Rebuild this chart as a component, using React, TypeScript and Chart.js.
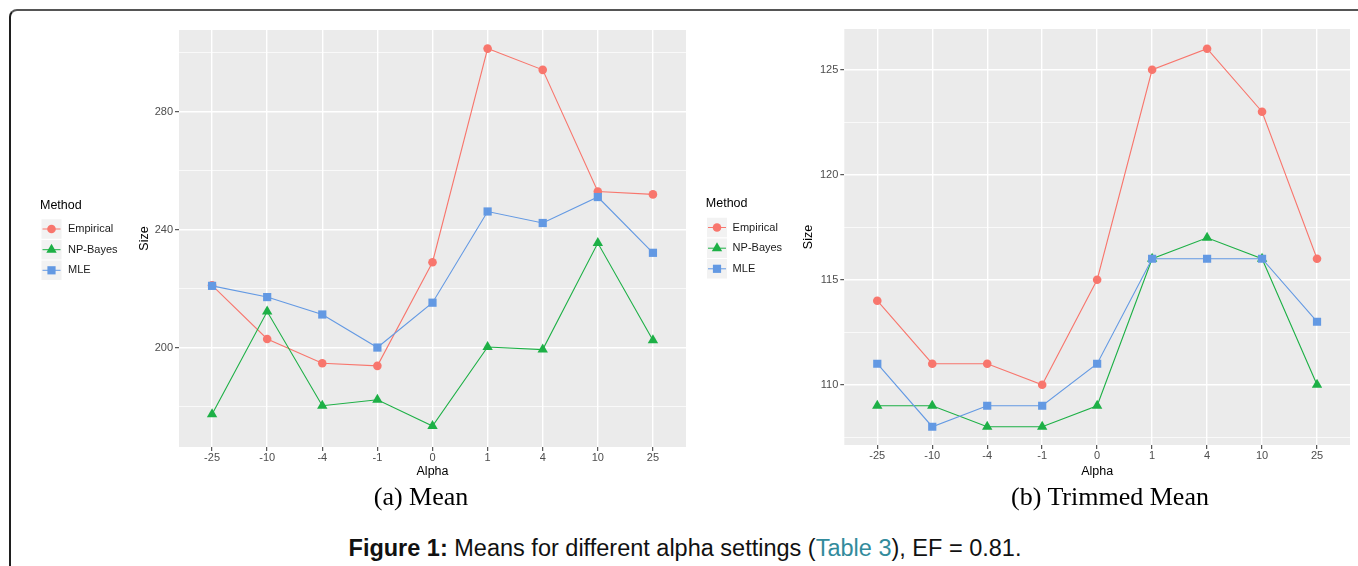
import React, { useEffect, useRef } from 'react';
import { Chart, registerables } from 'chart.js';

Chart.register(...registerables);

// ---------- data ----------
const alphaLabels = ['-25', '-10', '-4', '-1', '0', '1', '4', '10', '25'];
const methodNames = ['Empirical', 'NP-Bayes', 'MLE'];

const meanEmpirical = [221.2, 203, 194.8, 193.9, 229, 301.4, 294.2, 253, 252];
const meanNPBayes = [177.5, 212.3, 180.4, 182.4, 173.5, 200.3, 199.4, 235.5, 202.6];
const meanMLE = [221, 217.2, 211.3, 200.1, 215.3, 246.2, 242.3, 251.1, 232.2];

const trimEmpirical = [114, 111, 111, 110, 115, 125, 126, 123, 116];
const trimNPBayes = [109, 109, 108, 108, 109, 116, 117, 116, 110];
const trimMLE = [111, 108, 109, 109, 111, 116, 116, 116, 113];

const meanMajorTicks = [200, 240, 280];
const meanMinorTicks = [180, 220, 260, 300];
const trimMajorTicks = [110, 115, 120, 125];
const trimMinorTicks = [107.5, 112.5, 117.5, 122.5];

const methodColors = ['#F8766D', '#1DB046', '#6399E3'];
const methodShapes = ['circle', 'triangle', 'rect'];
const methodRadius = [4.3, 6, 5.8];

const SANS = '"Liberation Sans", Arial, Helvetica, sans-serif';

// ---------- plugins ----------
const panelBg = {
  id: 'panelBg',
  beforeDraw(chart: any) {
    const { ctx, chartArea } = chart;
    ctx.save();
    ctx.fillStyle = '#EBEBEB';
    ctx.fillRect(chartArea.left, chartArea.top, chartArea.right - chartArea.left, chartArea.bottom - chartArea.top);
    ctx.restore();
  },
};

function drawMarker(ctx: CanvasRenderingContext2D, style: string, x: number, y: number, r: number, color: string) {
  ctx.fillStyle = color;
  ctx.beginPath();
  if (style === 'circle') {
    ctx.arc(x, y, r, 0, Math.PI * 2);
  } else if (style === 'triangle') {
    let rad = 0;
    ctx.moveTo(x + Math.sin(rad) * r, y - Math.cos(rad) * r);
    rad += (2 * Math.PI) / 3;
    ctx.lineTo(x + Math.sin(rad) * r, y - Math.cos(rad) * r);
    rad += (2 * Math.PI) / 3;
    ctx.lineTo(x + Math.sin(rad) * r, y - Math.cos(rad) * r);
    ctx.closePath();
  } else {
    const s = r * Math.SQRT1_2;
    ctx.rect(x - s, y - s, 2 * s, 2 * s);
  }
  ctx.fill();
}

const ggLegend = {
  id: 'ggLegend',
  afterDraw(chart: any, _args: any, opts: any) {
    const ctx: CanvasRenderingContext2D = chart.ctx;
    ctx.save();
    ctx.textBaseline = 'middle';
    ctx.textAlign = 'left';
    ctx.fillStyle = '#000';
    ctx.font = `12.5px ${SANS}`;
    ctx.fillText(opts.title, opts.titleX, opts.titleY);
    chart.data.datasets.forEach((ds: any, i: number) => {
      const cy = opts.rows[i];
      const x0 = opts.keyX;
      const w = opts.keyW;
      const h = opts.keyH;
      ctx.fillStyle = '#F2F2F2';
      ctx.fillRect(x0, cy - h / 2, w, h);
      ctx.strokeStyle = ds.borderColor;
      ctx.lineWidth = 1;
      ctx.beginPath();
      ctx.moveTo(x0 + 1, cy);
      ctx.lineTo(x0 + w - 1, cy);
      ctx.stroke();
      drawMarker(ctx, ds.pointStyle, x0 + w / 2, cy, ds.pointRadius, ds.pointBackgroundColor);
      ctx.fillStyle = '#1a1a1a';
      ctx.font = `11px ${SANS}`;
      ctx.fillText(ds.label, opts.textX, cy);
    });
    ctx.restore();
  },
};

// ---------- panel ----------
type PanelCfg = {
  left: number;
  width: number;
  height: number;
  padding: { left: number; right: number; top: number; bottom: number };
  yW: number;
  xH: number;
  yTitlePad: number;
  xTitlePad: number;
  yMin: number;
  yMax: number;
  majors: number[];
  minors: number[];
  series: number[][];
  legend: any;
};

function Panel({ cfg }: { cfg: PanelCfg }) {
  const ref = useRef<HTMLCanvasElement | null>(null);
  useEffect(() => {
    if (!ref.current) return;
    const allTicks = [...cfg.majors, ...cfg.minors].sort((a, b) => a - b);
    const isMajor = (v: number) => cfg.majors.includes(v);
    const chart = new Chart(ref.current, {
      type: 'line',
      data: {
        datasets: cfg.series.map((vals, i) => ({
          label: methodNames[i],
          data: vals.map((y, j) => ({ x: j + 1, y })),
          borderColor: methodColors[i],
          backgroundColor: methodColors[i],
          pointBackgroundColor: methodColors[i],
          pointBorderWidth: 0,
          borderWidth: 1.1,
          pointStyle: methodShapes[i],
          pointRadius: methodRadius[i],
          tension: 0,
          order: 2 - i,
        })) as any,
      },
      options: {
        animation: false,
        responsive: false,
        devicePixelRatio: 1,
        events: [],
        layout: { padding: cfg.padding },
        plugins: {
          legend: { display: false },
          tooltip: { enabled: false },
          ggLegend: cfg.legend,
        } as any,
        scales: {
          x: {
            type: 'linear',
            min: 0.4,
            max: 9.6,
            afterBuildTicks: (axis: any) => {
              axis.ticks = alphaLabels.map((_, i) => ({ value: i + 1 }));
            },
            afterFit: (axis: any) => {
              axis.height = cfg.xH;
            },
            border: { display: false },
            grid: {
              color: '#FFFFFF',
              lineWidth: 1.4,
              tickColor: '#333333',
              tickLength: 4,
              tickWidth: 1,
            },
            ticks: {
              autoSkip: false,
              maxRotation: 0,
              padding: 0.5,
              color: '#4D4D4D',
              font: { family: SANS, size: 11 },
              callback: (v: any) => alphaLabels[Math.round(Number(v)) - 1] ?? '',
            },
            title: {
              display: true,
              text: 'Alpha',
              color: '#000',
              font: { family: SANS, size: 12.5 },
              padding: { top: 0, bottom: cfg.xTitlePad },
            },
          },
          y: {
            type: 'linear',
            min: cfg.yMin,
            max: cfg.yMax,
            afterBuildTicks: (axis: any) => {
              axis.ticks = allTicks.map((v) => ({ value: v }));
            },
            afterFit: (axis: any) => {
              axis.width = cfg.yW;
            },
            border: { display: false },
            grid: {
              color: '#FFFFFF',
              lineWidth: (c: any) => (isMajor(c.tick?.value) ? 1.4 : 0.7),
              tickColor: (c: any) => (isMajor(c.tick?.value) ? '#333333' : 'rgba(0,0,0,0)'),
              tickLength: 4,
              tickWidth: 1,
            },
            ticks: {
              autoSkip: false,
              padding: 2,
              color: '#4D4D4D',
              font: { family: SANS, size: 11 },
              callback: (v: any) => (isMajor(Number(v)) ? String(v) : ''),
            },
            title: {
              display: true,
              text: 'Size',
              color: '#000',
              font: { family: SANS, size: 12.5 },
              padding: { top: cfg.yTitlePad, bottom: 0 },
            },
          },
        },
      },
      plugins: [panelBg, ggLegend],
    });
    return () => chart.destroy();
  }, [cfg]);
  return (
    <canvas
      ref={ref}
      width={cfg.width}
      height={cfg.height}
      style={{ position: 'absolute', left: cfg.left, top: 0, width: cfg.width, height: cfg.height }}
    />
  );
}

const panelA: PanelCfg = {
  left: 0,
  width: 700,
  height: 490,
  padding: { left: 134, right: 14, top: 30, bottom: 8 },
  yW: 45,
  xH: 35,
  yTitlePad: 3,
  xTitlePad: 2.5,
  yMin: 166.4,
  yMax: 307.7,
  majors: meanMajorTicks,
  minors: meanMinorTicks,
  series: [meanEmpirical, meanNPBayes, meanMLE],
  legend: {
    title: 'Method',
    titleX: 40,
    titleY: 205.5,
    keyX: 41.5,
    keyW: 20,
    keyH: 19.5,
    rows: [229, 249.7, 270.3],
    textX: 68,
  },
};

const panelB: PanelCfg = {
  left: 690,
  width: 668,
  height: 490,
  padding: { left: 109.3, right: 8, top: 29, bottom: 10 },
  yW: 45,
  xH: 35,
  yTitlePad: 1.7,
  xTitlePad: 0.5,
  yMin: 107.13,
  yMax: 126.94,
  majors: trimMajorTicks,
  minors: trimMinorTicks,
  series: [trimEmpirical, trimNPBayes, trimMLE],
  legend: {
    title: 'Method',
    titleX: 15.8,
    titleY: 204,
    keyX: 17,
    keyW: 20,
    keyH: 19.5,
    rows: [227.5, 248.2, 268.8],
    textX: 42.6,
  },
};

export default function App() {
  return (
    <div
      style={{
        position: 'absolute',
        left: 0,
        top: 0,
        width: 1358,
        height: 566,
        overflow: 'hidden',
        background: '#FFFFFF',
      }}
    >
      <div
        style={{
          position: 'absolute',
          left: 9,
          top: 9,
          width: 1420,
          height: 620,
          borderTop: '2px solid #555555',
          borderLeft: '2px solid #1f1f1f',
          borderTopLeftRadius: 8,
          boxSizing: 'border-box',
        }}
      />
      <Panel cfg={panelA} />
      <Panel cfg={panelB} />
      <div
        style={{
          position: 'absolute',
          left: 271,
          top: 484.2,
          width: 300,
          textAlign: 'center',
          fontFamily: '"Liberation Serif", "Times New Roman", serif',
          fontSize: 26,
          lineHeight: '26px',
          color: '#000',
          whiteSpace: 'nowrap',
        }}
      >
        (a) Mean
      </div>
      <div
        style={{
          position: 'absolute',
          left: 960,
          top: 484.2,
          width: 300,
          textAlign: 'center',
          fontFamily: '"Liberation Serif", "Times New Roman", serif',
          fontSize: 26,
          lineHeight: '26px',
          color: '#000',
          whiteSpace: 'nowrap',
        }}
      >
        (b) Trimmed Mean
      </div>
      <div
        style={{
          position: 'absolute',
          left: 185,
          top: 536.5,
          width: 1000,
          textAlign: 'center',
          fontFamily: SANS,
          fontSize: 23.5,
          lineHeight: '23.5px',
          color: '#111',
          whiteSpace: 'nowrap',
        }}
      >
        <b>Figure 1:</b> Means for different alpha settings (<span style={{ color: '#328B9C' }}>Table 3</span>), EF = 0.81.
      </div>
    </div>
  );
}
